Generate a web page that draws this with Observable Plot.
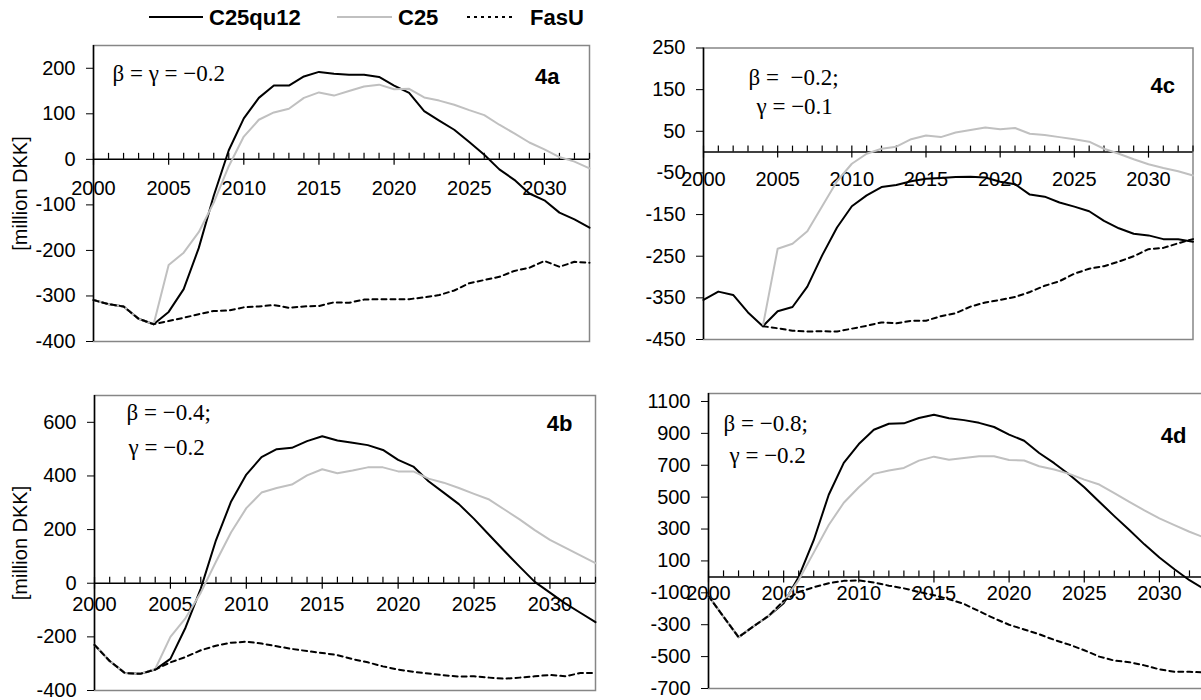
<!DOCTYPE html>
<html><head><meta charset="utf-8">
<script src="https://cdn.jsdelivr.net/npm/d3@7"></script>
<script src="https://cdn.jsdelivr.net/npm/@observablehq/plot@0.6"></script>
<style>
html,body{margin:0;padding:0;background:#fff;}
#root{position:relative;width:1201px;height:700px;overflow:hidden;font-family:"Liberation Sans",Arial,sans-serif;}
#root > svg{position:absolute;}
</style></head><body><div id="root"></div>
<script>
// ---------- data ----------
const years = [2000,2001,2002,2003,2004,2005,2006,2007,2008,2009,2010,2011,2012,2013,2014,2015,2016,2017,2018,2019,2020,2021,2022,2023,2024,2025,2026,2027,2028,2029,2030,2031,2032,2033];
const majorYears = [2000,2005,2010,2015,2020,2025,2030];
const seriesNames = ["C25qu12","C25","FasU"];

const a_C25qu12 = [-309,-318,-323,-350,-362,-335,-285,-195,-80,20,90,135,162,162,182,192,188,186,186,181,162,146,106,85,65,38,10,-22,-45,-75,-90,-117,-132,-150];
const a_C25     = [-309,-318,-323,-350,-362,-232,-205,-160,-95,-15,50,87,103,111,135,147,140,150,160,164,154,155,136,129,120,108,97,76,57,37,22,5,-5,-20];
const a_FasU    = [-309,-318,-323,-350,-362,-355,-348,-340,-333,-332,-325,-323,-320,-326,-323,-322,-314,-315,-308,-307,-307,-307,-303,-298,-288,-272,-265,-258,-245,-238,-223,-236,-225,-227];

const b_C25qu12 = [-230,-290,-335,-338,-322,-282,-165,-20,160,305,405,470,500,505,530,548,532,524,515,497,460,435,380,338,295,240,180,120,62,5,-35,-75,-110,-145];
const b_C25     = [-230,-290,-335,-338,-320,-200,-130,-35,80,190,280,338,355,368,402,425,410,420,432,432,417,417,390,375,355,333,312,275,238,198,162,133,104,75];
const b_FasU    = [-230,-290,-335,-338,-322,-295,-275,-250,-233,-222,-218,-225,-235,-245,-253,-260,-268,-283,-295,-310,-322,-330,-337,-343,-348,-347,-352,-356,-352,-347,-342,-347,-335,-335];

const c_C25qu12 = [-355,-335,-343,-385,-418,-382,-372,-323,-248,-181,-130,-104,-84,-79,-70,-64,-62,-60,-59,-61,-71,-77,-102,-107,-121,-131,-142,-165,-183,-196,-200,-209,-209,-215];
const c_C25     = [null,null,null,null,-418,-232,-220,-190,-130,-70,-28,-4,8,13,31,40,36,47,53,59,55,58,44,41,36,31,25,8,-4,-17,-29,-38,-46,-56];
const c_FasU    = [null,null,null,null,-418,-423,-429,-431,-430,-431,-424,-417,-409,-411,-405,-405,-394,-387,-371,-361,-355,-348,-336,-321,-310,-292,-280,-274,-263,-250,-233,-230,-219,-209];

const d_C25qu12 = [-120,-250,-378,-310,-245,-165,0,230,515,715,833,923,960,963,996,1017,995,983,966,940,892,854,777,713,642,562,471,381,294,204,121,48,-21,-78];
const d_C25     = [-120,-250,-378,-310,-245,-155,-20,152,325,465,562,646,667,683,729,754,735,745,756,756,733,730,694,673,646,610,579,525,471,417,367,325,283,246];
const d_FasU    = [-120,-250,-378,-310,-245,-150,-95,-65,-40,-25,-22,-35,-55,-72,-95,-115,-140,-170,-215,-260,-300,-330,-360,-395,-425,-460,-500,-525,-535,-555,-580,-595,-595,-600];

const yTicksA = [-400,-300,-200,-100,0,100,200];
const yTicksB = [-400,-200,0,200,400,600];
const yTicksC = [-450,-350,-250,-150,-50,50,150,250];
const yTicksD = [-700,-500,-300,-100,100,300,500,700,900,1100];
const yDomainA = [-400,250], yDomainB = [-400,700], yDomainC = [-450,250], yDomainD = [-700,1150];

const yAxisTitle = "[million DKK]";

// ---------- layout ----------
const panels = [
  {name:"4a", values:[a_C25qu12,a_C25,a_FasU], yDomain:yDomainA, yTicks:yTicksA,
   box:{left:0,top:0,w:600,h:360}, L:93,R:589,T:45,B:341, labelDy:29, yTitle:true,
   notes:[{t:"β = γ = −0.2", dx:19, dy:28}], tag:{dx:-30, dy:31}},
  {name:"4b", values:[b_C25qu12,b_C25,b_FasU], yDomain:yDomainB, yTicks:yTicksB,
   box:{left:0,top:360,w:600,h:340}, L:94,R:595,T:395,B:690, labelDy:21, yTitle:true,
   notes:[{t:"β = −0.4;", dx:32, dy:17},{t:"γ = −0.2", dx:34, dy:52}], tag:{dx:-23, dy:28}},
  {name:"4c", values:[c_C25qu12,c_C25,c_FasU], yDomain:yDomainC, yTicks:yTicksC,
   box:{left:600,top:0,w:601,h:360}, L:703,R:1192.5,T:47.5,B:339, labelDy:27, yTitle:false,
   notes:[{t:"β =\u00a0 −0.2;", dx:45, dy:30},{t:"γ = −0.1", dx:53, dy:59}], tag:{dx:-18, dy:38}},
  {name:"4d", values:[d_C25qu12,d_C25,d_FasU], yDomain:yDomainD, yTicks:yTicksD,
   box:{left:600,top:360,w:601,h:340}, L:708,R:1204,T:393,B:688, labelDy:17, yTitle:false,
   notes:[{t:"β = −0.8;", dx:15, dy:30},{t:"γ = −0.2", dx:21, dy:62}], tag:{dx:-18, dy:42}}
];

const seriesStyle = {
  "C25qu12": {stroke:"#000", strokeWidth:2},
  "C25": {stroke:"#c0c0c0", strokeWidth:2},
  "FasU": {stroke:"#000", strokeWidth:2, strokeDasharray:"5,4"}
};

const root = document.getElementById("root");

function rowsFor(p, k) {
  const out = [];
  p.values[k].forEach((v, i) => { if (v != null) out.push({year: years[i], value: v}); });
  return out;
}

for (const p of panels) {
  const b = p.box;
  const minorYears = years.filter(y => y > 2000 && !majorYears.includes(y));
  const marks = [
    Plot.frame({stroke:"#868686", strokeWidth:1.5}),
    Plot.ruleY([0], {stroke:"#000", strokeWidth:1.5}),
    Plot.ruleX(minorYears, {x: d => d, y1: () => 0, y2: () => 0, insetTop: -6, stroke:"#000", strokeWidth:1.2}),
    Plot.ruleX(majorYears, {x: d => d, y1: () => 0, y2: () => 0, insetTop: -6, insetBottom: -6, stroke:"#000", strokeWidth:1.2}),
    Plot.text(majorYears, {x: d => d, y: () => 0, text: d => String(d), dy: p.labelDy, fontSize: 20, fill:"#000", lineAnchor:"middle"}),
    Plot.axisY({ticks: p.yTicks, tickSize: 7, tickPadding: 11, tickFormat: d => String(d), label: null, fontSize: 20}),
    Plot.ruleX([2000], {stroke:"#000", strokeWidth:1.5}),
  ];
  seriesNames.forEach((s, k) => {
    marks.push(Plot.lineY(rowsFor(p, k), {x:"year", y:"value", ...seriesStyle[s]}));
  });
  for (const n of p.notes) {
    marks.push(Plot.text([n.t], {text: d => d, frameAnchor:"top-left", textAnchor:"start", lineAnchor:"middle",
      dx: n.dx, dy: n.dy, fontFamily:"Liberation Serif, Times New Roman, serif", fontSize: 23, fill:"#000"}));
  }
  marks.push(Plot.text([p.name], {text: d => d, frameAnchor:"top-right", textAnchor:"end", lineAnchor:"middle",
    dx: p.tag.dx, dy: p.tag.dy, fontWeight:"bold", fontSize: 22, fill:"#000"}));
  if (p.yTitle) {
    marks.push(Plot.text([yAxisTitle], {text: d => d, frameAnchor:"left", rotate:-90, dx: -(p.L - 20), lineAnchor:"middle",
      textAnchor:"middle", fontSize: 20, fill:"#000"}));
  }
  const svg = Plot.plot({
    width: b.w, height: b.h,
    marginLeft: p.L - b.left, marginRight: b.left + b.w - p.R,
    marginTop: p.T - b.top, marginBottom: b.top + b.h - p.B,
    x: {domain:[2000,2033], axis:null},
    y: {domain:p.yDomain, label:null},
    style: {fontFamily:"Liberation Sans, Arial, sans-serif", fontSize:"20px", color:"#000", background:"transparent", overflow:"visible"},
    marks
  });
  svg.style.position = "absolute";
  svg.style.left = b.left + "px";
  svg.style.top = b.top + "px";
  root.appendChild(svg);
}

// ---------- legend ----------
const legendLayout = [
  {x1:149, x2:203, tx:209},
  {x1:337, x2:392, tx:398},
  {x1:467, x2:513, tx:530}
];
const legendDash = {"C25qu12": null, "C25": null, "FasU": "3,4"};
const ns = "http://www.w3.org/2000/svg";
const lg = document.createElementNS(ns, "svg");
lg.setAttribute("width", 700); lg.setAttribute("height", 36);
lg.style.position = "absolute"; lg.style.left = "0px"; lg.style.top = "0px";
seriesNames.forEach((s, k) => {
  const L = legendLayout[k];
  const ln = document.createElementNS(ns, "line");
  ln.setAttribute("x1", L.x1); ln.setAttribute("x2", L.x2);
  ln.setAttribute("y1", 17); ln.setAttribute("y2", 17);
  ln.setAttribute("stroke", seriesStyle[s].stroke);
  ln.setAttribute("stroke-width", 2);
  if (legendDash[s]) ln.setAttribute("stroke-dasharray", legendDash[s]);
  lg.appendChild(ln);
  const tx = document.createElementNS(ns, "text");
  tx.setAttribute("x", L.tx); tx.setAttribute("y", 17);
  tx.setAttribute("dominant-baseline", "central");
  tx.setAttribute("font-family", "Liberation Sans, Arial, sans-serif");
  tx.setAttribute("font-weight", "bold");
  tx.setAttribute("font-size", 22);
  tx.textContent = s;
  lg.appendChild(tx);
});
root.appendChild(lg);
</script>
</body></html>
